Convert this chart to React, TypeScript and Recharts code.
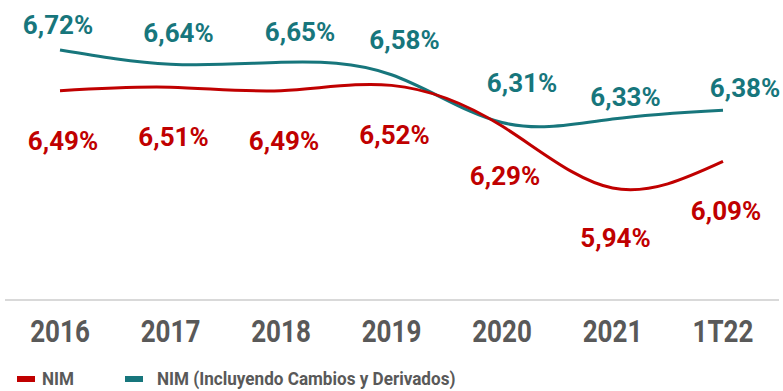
import React from "react";
import { LineChart, Line, XAxis, YAxis, Legend, LabelList } from "recharts";

const years = ["2016", "2017", "2018", "2019", "2020", "2021", "1T22"];
const nim = [6.49, 6.51, 6.49, 6.52, 6.29, 5.94, 6.09];
const nimDerivados = [6.72, 6.64, 6.65, 6.58, 6.31, 6.33, 6.38];

const RED = "#c00000";
const TEAL = "#17767c";

// label nudges for the teal series (the labels sit above the line)
const tealDx = [-2, 8, 19, 13, 20, 13, 22];
const tealDy = [-25, -31, -30, -35, -40, -22, -22];

const data = years.map((year, i) => ({
  year,
  nim: nim[i],
  nimDerivados: nimDerivados[i],
}));

const fmt = (v: number) => v.toFixed(2).replace(".", ",") + "%";

const makeLabel =
  (color: string, dx: (i: number) => number, dy: (i: number) => number) =>
  (props: any) => {
    const { x, y, value, index } = props;
    return (
      <text
        x={x + dx(index)}
        y={y + dy(index)}
        textAnchor="middle"
        dominantBaseline="central"
        fill={color}
        stroke="#fff"
        strokeWidth={5}
        paintOrder="stroke"
        fontFamily="Roboto, sans-serif"
        fontWeight={700}
        fontSize={26}
      >
        {fmt(value)}
      </text>
    );
  };

// condensed-looking year labels
const YearTick = (props: any) => {
  const { x, y, payload } = props;
  return (
    <g transform={`translate(${x},${y}) scale(0.84,1)`}>
      <text
        x={0}
        y={0}
        dy={29}
        textAnchor="middle"
        dominantBaseline="central"
        fill="#595959"
        fontFamily="Roboto, sans-serif"
        fontWeight={700}
        fontSize={31}
      >
        {payload.value}
      </text>
    </g>
  );
};

const narrow: React.CSSProperties = {
  display: "inline-block",
  transform: "scaleX(0.9)",
  transformOrigin: "left center",
  whiteSpace: "nowrap",
};

const LegendBox = () => (
  <div
    style={{
      display: "flex",
      alignItems: "center",
      height: 30,
      paddingTop: 6,
      fontFamily: "Roboto, sans-serif",
      fontWeight: 700,
      fontSize: 19,
      lineHeight: "22px",
      color: "#595959",
      boxSizing: "border-box",
    }}
  >
    <span style={{ width: 18, height: 6, background: RED, marginLeft: 12, marginRight: 7 }} />
    <span style={{ ...narrow, width: 83 }}>NIM</span>
    <span style={{ width: 18, height: 6, background: TEAL, marginRight: 14 }} />
    <span style={narrow}>NIM (Incluyendo Cambios y Derivados)</span>
  </div>
);

export default function App() {
  return (
    <div style={{ position: "absolute", left: 0, top: 0, background: "#fff" }}>
      <LineChart
        width={783}
        height={391}
        data={data}
        margin={{ top: 10, right: 4, bottom: 0, left: 5 }}
      >
        <XAxis
          dataKey="year"
          axisLine={{ stroke: "#d9d9d9", strokeWidth: 2 }}
          tickLine={false}
          tickSize={0}
          height={61}
          interval={0}
          padding={{ left: 55, right: 56 }}
          tick={<YearTick />}
        />
        <YAxis hide domain={[5.307, 6.946]} allowDataOverflow />
        <Legend verticalAlign="bottom" align="left" height={30} content={<LegendBox />} />
        <Line
          type="natural"
          dataKey="nimDerivados"
          stroke={TEAL}
          strokeWidth={3}
          dot={false}
          isAnimationActive={false}
        >
          <LabelList
            dataKey="nimDerivados"
            content={makeLabel(TEAL, (i) => tealDx[i], (i) => tealDy[i])}
          />
        </Line>
        <Line
          type="natural"
          dataKey="nim"
          stroke={RED}
          strokeWidth={3}
          dot={false}
          isAnimationActive={false}
        >
          <LabelList dataKey="nim" content={makeLabel(RED, () => 3, () => 50)} />
        </Line>
      </LineChart>
    </div>
  );
}
